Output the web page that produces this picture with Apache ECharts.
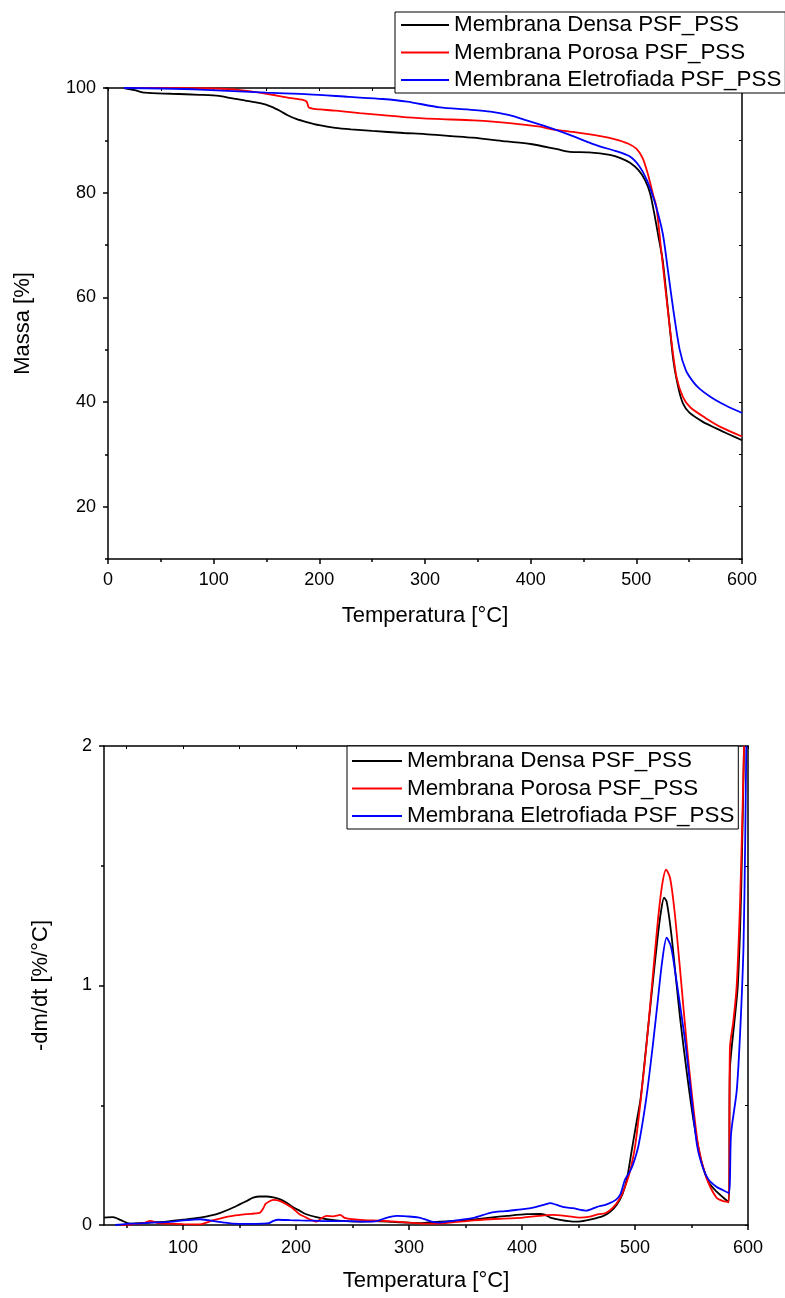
<!DOCTYPE html>
<html>
<head>
<meta charset="utf-8">
<script src="https://cdn.jsdelivr.net/npm/echarts@6.0.0/dist/echarts.min.js"></script>
<style>
html,body{margin:0;padding:0;background:#fff;}
#chart{width:785px;height:1298px;}
</style>
</head>
<body>
<div id="chart"></div>
<script>
// ---------- DATA ----------
const seriesNames = ['Membrana Densa PSF_PSS', 'Membrana Porosa PSF_PSS', 'Membrana Eletrofiada PSF_PSS'];
const seriesColors = ['#000000', '#ff0000', '#0000ff'];

// TGA: [temperature °C, mass %]
const tgaDensa = [[15,100],[25,99.6],[35,99.1],[60,98.9],[87,98.7],[105,98.5],[118,98.0],[130,97.6],[144,97.1],[155,96.4],[163,95.6],[170,94.8],[178,94.1],[188,93.5],[200,92.9],[215,92.4],[230,92.1],[250,91.8],[280,91.4],[300,91.2],[325,90.8],[345,90.5],[377,89.8],[400,89.3],[425,88.3],[437,87.8],[455,87.7],[475,87.2],[485,86.6],[494,85.7],[502,84.3],[508,82.5],[513,79.9],[517,76],[521,71.5],[525,67],[530,57.5],[535,48],[540,42.5],[544,39.8],[550,38],[563,36.2],[575,35],[588,33.8],[600,32.7]];
const tgaPorosa = [[15,100],[60,100],[100,99.9],[125,99.6],[150,98.9],[169,98.2],[185,97.7],[188,97.4],[190,96.3],[195,96.0],[201,95.9],[213,95.7],[220,95.6],[238,95.2],[260,94.8],[283,94.4],[310,94.1],[346,93.8],[380,93.3],[409,92.6],[420,92.1],[440,91.6],[466,90.8],[480,90.2],[492,89.4],[500,88.4],[506,86.6],[511,83.5],[516,79.5],[519,77.3],[523,70],[528,60.8],[533,52],[538,44.8],[544,41],[551,39],[565,37],[580,35.2],[600,33.4]];
const tgaEletro = [[15,100],[50,99.9],[87,99.7],[150,99.1],[190,98.8],[228,98.3],[260,97.9],[283,97.4],[314,96.3],[340,95.9],[362,95.5],[380,94.8],[393,94.0],[415,92.6],[440,90.8],[455,89.6],[466,88.8],[480,88.0],[494,86.9],[503,85],[510,82.4],[517,78.5],[525,72.2],[530,65],[535,57.6],[541,50],[547,46],[554,43.8],[560,42.5],[570,41],[580,39.8],[590,38.8],[600,37.9]];

// DTG: [temperature °C, -dm/dt %/°C]
const dtgDensa = [[30,0.031],[38,0.033],[45,0.02],[53,0.006],[70,0.01],[85,0.014],[100,0.022],[115,0.031],[125,0.04],[133,0.051],[142,0.068],[150,0.086],[157,0.102],[162,0.114],[168,0.119],[174,0.119],[180,0.115],[186,0.107],[192,0.092],[197,0.075],[203,0.06],[209,0.045],[218,0.033],[227,0.024],[240,0.017],[255,0.014],[270,0.016],[285,0.013],[298,0.010],[310,0.008],[327,0.014],[347,0.018],[360,0.024],[372,0.031],[387,0.038],[404,0.045],[416,0.046],[420,0.043],[425,0.031],[435,0.02],[445,0.014],[452,0.015],[457,0.019],[465,0.028],[472,0.038],[478,0.055],[484,0.086],[489,0.13],[493,0.197],[497,0.309],[501,0.42],[505,0.53],[510,0.75],[515,0.98],[520,1.2],[523,1.31],[525.7,1.367],[528,1.35],[532,1.22],[536,1.04],[540,0.86],[546,0.63],[552,0.43],[558,0.28],[565,0.18],[572,0.14],[578,0.115],[583,0.095],[584,0.65],[588,0.85],[591,1.0],[594,1.4],[596.5,2.0]];
const dtgPorosa = [[45,0],[55,0.003],[65,0.008],[71,0.017],[78,0.008],[85,0.006],[100,0.004],[115,0.003],[126,0.019],[135,0.03],[144,0.038],[156,0.045],[163,0.048],[168,0.051],[171,0.07],[173,0.088],[177,0.1],[180,0.105],[186,0.1],[192,0.085],[197,0.07],[203,0.045],[209,0.031],[214,0.02],[218,0.014],[223,0.03],[227,0.038],[233,0.036],[239,0.042],[243,0.03],[250,0.024],[260,0.02],[268,0.019],[288,0.014],[300,0.01],[312,0.006],[325,0.006],[340,0.012],[357,0.019],[375,0.025],[390,0.028],[401,0.031],[415,0.038],[427,0.042],[440,0.037],[451,0.031],[460,0.035],[468,0.045],[474,0.05],[480,0.07],[487,0.114],[492,0.17],[495.6,0.225],[500,0.327],[505,0.52],[510,0.744],[515,1.0],[520,1.26],[524,1.42],[527.5,1.484],[531,1.45],[535,1.31],[540,1.06],[546,0.744],[550,0.56],[556,0.33],[563,0.2],[572,0.115],[578,0.1],[583,0.097],[584,0.74],[587,0.85],[590,1.0],[593,1.35],[595,1.7],[596.5,2.0]];
const dtgEletro = [[40,0],[50,0.005],[60,0.006],[71,0.01],[85,0.012],[100,0.019],[108,0.022],[115,0.024],[122,0.02],[130,0.014],[137,0.01],[144,0.006],[160,0.005],[170,0.006],[176,0.008],[180,0.017],[184,0.022],[195,0.02],[203.5,0.019],[215,0.018],[230,0.016],[247,0.016],[260,0.014],[270,0.015],[280,0.03],[289,0.038],[298,0.036],[308,0.032],[315,0.022],[320,0.014],[327,0.01],[340,0.018],[357,0.03],[372,0.051],[385,0.058],[401,0.066],[412,0.075],[420,0.085],[425,0.091],[430,0.085],[437,0.075],[445,0.07],[457,0.06],[466,0.075],[475,0.086],[483,0.105],[487,0.128],[491,0.188],[495,0.22],[498,0.25],[503,0.33],[510,0.53],[515.6,0.744],[520,0.93],[524,1.1],[528,1.2],[532,1.16],[537,1.01],[541,0.88],[545,0.744],[550,0.53],[555,0.33],[560,0.24],[565,0.19],[572,0.16],[578,0.145],[583,0.133],[585,0.38],[590,0.56],[593,0.8],[596,1.16],[597.5,1.6],[598.5,2.0]];

// Tick labels
const tgaYLabels = [20, 40, 60, 80, 100];
const dtgXLabels = [100, 200, 300, 400, 500, 600];
const dtgXMinor = [50, 150, 250, 350, 450, 550];
const dtgXMirror = [50, 100, 150, 200, 250, 300, 350, 400, 450, 500, 550, 600];

// ---------- CHART ----------
const FONT = '"Liberation Sans", Arial, sans-serif';
const LS = {color: '#000', width: 1.5};
const labelStyle = {fontSize: 18, color: '#000', fontFamily: FONT};
const nameStyle = {fontSize: 22, color: '#000', fontFamily: FONT};

const grids = [
  {left: 108, top: 88, width: 634, height: 471, outerBoundsMode: 'none'},
  {left: 108, top: 88, width: 634, height: 471, outerBoundsMode: 'none'},
  {left: 104, top: 746, width: 644, height: 479, outerBoundsMode: 'none'},
  {left: 104, top: 746, width: 644, height: 479, outerBoundsMode: 'none'}
];

const xAxes = [
  {gridIndex: 0, type: 'value', position: 'bottom', min: 0, max: 600, interval: 100,
   name: 'Temperatura [°C]', nameLocation: 'middle', nameGap: 46, nameTextStyle: nameStyle,
   axisLine: {show: true, onZero: false, lineStyle: LS},
   axisTick: {show: true, inside: false, length: 5, lineStyle: LS},
   minorTick: {show: true, splitNumber: 2, length: 3, lineStyle: LS},
   axisLabel: Object.assign({margin: 12}, labelStyle), splitLine: {show: false}},
  {gridIndex: 0, type: 'value', position: 'top', min: 0, max: 600, interval: 50,
   axisLine: {show: true, onZero: false, lineStyle: LS},
   axisTick: {show: true, inside: true, length: 3, lineStyle: {color: '#000', width: 1}},
   axisLabel: {show: false}, splitLine: {show: false}},
  {gridIndex: 1, type: 'value', min: 0, max: 600, show: false},
  {gridIndex: 2, type: 'value', position: 'bottom', min: 30, max: 600,
   name: 'Temperatura [°C]', nameLocation: 'middle', nameGap: 45, nameTextStyle: nameStyle,
   axisLine: {show: true, onZero: false, lineStyle: LS},
   axisTick: {show: true, inside: false, length: 5, lineStyle: LS, customValues: dtgXLabels},
   axisLabel: Object.assign({margin: 14, customValues: dtgXLabels}, labelStyle), splitLine: {show: false}},
  {gridIndex: 2, type: 'value', position: 'top', min: 30, max: 600,
   axisLine: {show: true, onZero: false, lineStyle: LS},
   axisTick: {show: true, inside: true, length: 3, lineStyle: {color: '#000', width: 1}, customValues: dtgXMirror},
   axisLabel: {show: false}, splitLine: {show: false}},
  {gridIndex: 3, type: 'value', position: 'bottom', min: 30, max: 600,
   axisLine: {show: false},
   axisTick: {show: true, inside: false, length: 3, lineStyle: LS, customValues: dtgXMinor},
   axisLabel: {show: false}, splitLine: {show: false}}
];

const yAxes = [
  {gridIndex: 0, type: 'value', position: 'left', min: 10, max: 100,
   name: 'Massa [%]', nameLocation: 'middle', nameGap: 74, nameTextStyle: nameStyle,
   axisLine: {show: true, onZero: false, lineStyle: LS},
   axisTick: {show: true, inside: false, length: 5, lineStyle: LS, customValues: tgaYLabels},
   axisLabel: Object.assign({margin: 12, customValues: tgaYLabels}, labelStyle), splitLine: {show: false}},
  {gridIndex: 0, type: 'value', position: 'right', min: 10, max: 100, interval: 10,
   axisLine: {show: true, onZero: false, lineStyle: LS},
   axisTick: {show: true, inside: true, length: 3, lineStyle: {color: '#000', width: 1}},
   axisLabel: {show: false}, splitLine: {show: false}},
  {gridIndex: 1, type: 'value', position: 'left', min: 10, max: 100, interval: 20,
   axisLine: {show: false},
   axisTick: {show: true, inside: false, length: 3, lineStyle: LS},
   axisLabel: {show: false}, splitLine: {show: false}},
  {gridIndex: 2, type: 'value', position: 'left', min: 0, max: 2, interval: 1,
   name: '-dm/dt [%/°C]', nameLocation: 'middle', nameGap: 52, nameTextStyle: nameStyle,
   axisLine: {show: true, onZero: false, lineStyle: LS},
   axisTick: {show: true, inside: false, length: 5, lineStyle: LS},
   minorTick: {show: true, splitNumber: 2, length: 3, lineStyle: LS},
   axisLabel: Object.assign({margin: 12}, labelStyle), splitLine: {show: false}},
  {gridIndex: 2, type: 'value', position: 'right', min: 0, max: 2, interval: 0.5,
   axisLine: {show: true, onZero: false, lineStyle: LS},
   axisTick: {show: true, inside: true, length: 3, lineStyle: {color: '#000', width: 1}},
   axisLabel: {show: false}, splitLine: {show: false}},
  {gridIndex: 3, type: 'value', min: 0, max: 2, show: false}
];

function lineSeries(name, color, data, xi, yi) {
  return {
    type: 'line', name: name, data: data, xAxisIndex: xi, yAxisIndex: yi,
    color: color, showSymbol: false, symbol: 'none', smooth: 0.25, clip: true,
    lineStyle: {color: color, width: 1.8}, emphasis: {disabled: true}, z: 2
  };
}

const tgaData = [tgaDensa, tgaPorosa, tgaEletro];
const dtgData = [dtgDensa, dtgPorosa, dtgEletro];
const series = [];
for (let i = 0; i < 3; i++) series.push(lineSeries(seriesNames[i], seriesColors[i], tgaData[i], 0, 0));
for (let i = 0; i < 3; i++) series.push(lineSeries(seriesNames[i], seriesColors[i], dtgData[i], 3, 3));

function legend(left, top, itemWidth, pad) {
  return {
    data: seriesNames, orient: 'vertical', left: left, top: top,
    itemWidth: itemWidth, itemHeight: 2, itemGap: 5.5, icon: 'rect',
    padding: pad, backgroundColor: '#fff', borderColor: '#000', borderWidth: 1,
    borderRadius: 0, selectedMode: false, z: 10,
    textStyle: {fontSize: 22.4, color: '#000', fontFamily: FONT, lineHeight: 22, padding: 0}
  };
}

const option = {
  animation: false,
  backgroundColor: '#fff',
  grid: grids,
  xAxis: xAxes,
  yAxis: yAxes,
  legend: [legend(395, 12, 48, [2, 4, 2, 6]), legend(347, 746, 50, [4, 4, 2, 5])],
  series: series
};

const chart = echarts.init(document.getElementById('chart'), null, {renderer: 'canvas'});
chart.setOption(option);
</script>
</body>
</html>
